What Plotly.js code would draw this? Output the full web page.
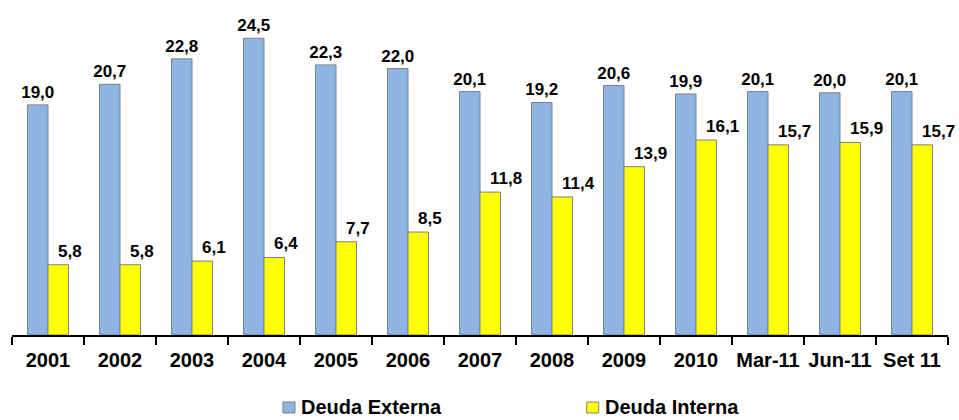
<!DOCTYPE html>
<html>
<head>
<meta charset="utf-8">
<script src="https://cdn.plot.ly/plotly-3.0.1.min.js"></script>
<style>html,body{margin:0;padding:0;background:#fff;}#chart{width:959px;height:420px;}</style>
</head>
<body>
<div id="chart"></div>
<script>
const categories = ["2001","2002","2003","2004","2005","2006","2007","2008","2009","2010","Mar-11","Jun-11","Set 11"];
const deudaExterna = [19.0,20.7,22.8,24.5,22.3,22.0,20.1,19.2,20.6,19.9,20.1,20.0,20.1];
const deudaInterna = [5.8,5.8,6.1,6.4,7.7,8.5,11.8,11.4,13.9,16.1,15.7,15.9,15.7];
const seriesNames = ["Deuda Externa","Deuda Interna"];
const seriesColors = ["#8EB4E3","#FFFF00"];

const font = "Arial, 'Liberation Sans', sans-serif";
const labelFont = {family: font, size: 17, color: "#000", weight: "bold"};
const traces = [deudaExterna, deudaInterna].map((vals, i) => ({
  type: "bar",
  x: categories,
  y: vals,
  name: seriesNames[i],
  marker: {color: seriesColors[i], line: {color: "#7F7F7F", width: 1}},
  texttemplate: i === 0 ? "%{y:.1f}" : "",
  textposition: i === 0 ? "outside" : "none",
  constraintext: "none",
  cliponaxis: false,
  textfont: labelFont,
  hoverinfo: "none"
}));

// Deuda Interna labels sit to the right of the bar centre, as in the original
// (x given as category index, since numeric-looking category names are read as indices)
const annotations = deudaInterna.map((v, i) => ({
  x: i, y: v, xref: "x", yref: "y",
  xshift: 9, yshift: 3, xanchor: "left", yanchor: "bottom",
  showarrow: false, borderpad: 0,
  text: v.toFixed(1).replace(".", ","), font: labelFont
}));

const legendShapes = [];
const legX = [0.2895, 0.614];
seriesNames.forEach((n, i) => {
  legendShapes.push({type: "rect", xref: "paper", yref: "paper",
    x0: legX[i], x1: legX[i] + 12/936, y0: -0.2049, y1: -0.2385,
    fillcolor: seriesColors[i], line: {color: "#7F7F7F", width: 1}});
  annotations.push({xref: "paper", yref: "paper", x: legX[i] + 17/936, y: -0.220,
    xanchor: "left", yanchor: "middle", showarrow: false, text: n, borderpad: 0,
    font: {family: font, size: 20, color: "#000", weight: "bold"}});
});

const layout = {
  width: 959, height: 420,
  margin: {l: 12, r: 11, t: 8, b: 85},
  paper_bgcolor: "#fff", plot_bgcolor: "#fff",
  separators: ",.",
  barmode: "group", bargap: 0.43, bargroupgap: 0,
  showlegend: false,
  xaxis: {
    type: "category", tickangle: 0,
    categoryorder: "array", categoryarray: categories,
    range: [-0.5, categories.length - 0.5],
    showline: true, linecolor: "#000", linewidth: 2,
    ticks: "outside", tickson: "boundaries", ticklen: 8, tickwidth: 2, tickcolor: "#000",
    tickfont: {family: font, size: 20, color: "#000", weight: "bold"},
    ticklabelstandoff: 6,
    showgrid: false, zeroline: false, fixedrange: true
  },
  yaxis: {visible: false, range: [0, 27], showgrid: false, zeroline: false, fixedrange: true},
  shapes: legendShapes,
  annotations: annotations
};
Plotly.newPlot("chart", traces, layout, {displayModeBar: false, staticPlot: true});
</script>
</body>
</html>
